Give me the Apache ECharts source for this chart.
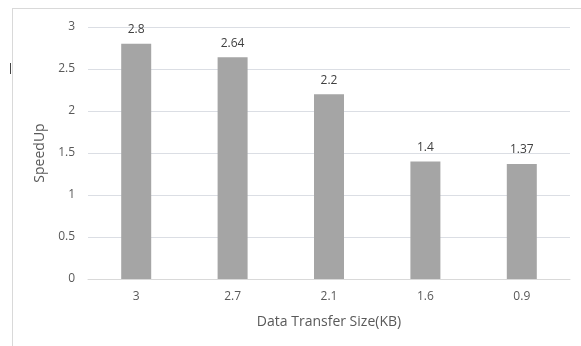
<!DOCTYPE html>
<html>
<head>
<meta charset="utf-8">
<script src="https://cdn.jsdelivr.net/npm/echarts@6/dist/echarts.min.js"></script>
<style>
  html, body { margin: 0; padding: 0; background: #ffffff; }
  #frame { position: absolute; left: 12px; top: 8px; width: 569px; height: 338px;
           border-top: 1px solid #d9d9d9; border-left: 1px solid #d9d9d9; }
  #mark { position: absolute; left: 10px; top: 63px; width: 1px; height: 11px; background: #444; }
  #chart { position: absolute; left: 0; top: 0; width: 581px; height: 346px; }
</style>
</head>
<body>
<div id="frame"></div>
<div id="mark"></div>
<div id="chart"></div>
<script>
const categories = ['3', '2.7', '2.1', '1.6', '0.9'];
const speedUp = [2.8, 2.64, 2.2, 1.4, 1.37];
const yTicks = { min: 0, max: 3, interval: 0.5 };

const chart = echarts.init(document.getElementById('chart'), null, { renderer: 'canvas' });
const font = '"Open Sans", "Liberation Sans", sans-serif';

chart.setOption({
  backgroundColor: 'transparent',
  animation: false,
  textStyle: { fontFamily: font },
  grid: { left: 88, right: 11, top: 27, bottom: 67, containLabel: false },
  xAxis: {
    type: 'category',
    data: categories,
    name: 'Data Transfer Size(KB)',
    nameLocation: 'middle',
    nameGap: 36,
    nameTextStyle: { color: '#595959', fontSize: 14, fontFamily: font },
    axisLine: { show: true, lineStyle: { color: '#d9d9d9', width: 1 } },
    axisTick: { show: false },
    axisLabel: { color: '#595959', fontSize: 12, margin: 12, fontFamily: font }
  },
  yAxis: {
    type: 'value',
    min: yTicks.min,
    max: yTicks.max,
    interval: yTicks.interval,
    name: 'SpeedUp',
    nameLocation: 'middle',
    nameGap: 38,
    nameTextStyle: { color: '#595959', fontSize: 14, fontFamily: font },
    axisLine: { show: false },
    axisTick: { show: false },
    axisLabel: { color: '#595959', fontSize: 12, margin: 13, fontFamily: font }
  },
  series: [{
    type: 'bar',
    data: speedUp,
    barWidth: 30,
    itemStyle: { color: '#a5a5a5' },
    label: {
      show: true,
      position: 'top',
      distance: 8,
      color: '#404040',
      fontSize: 12,
      fontFamily: font
    }
  }]
});
</script>
</body>
</html>
